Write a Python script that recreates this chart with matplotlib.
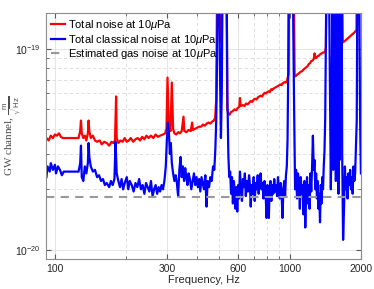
import matplotlib
matplotlib.use("Agg")
import numpy as np
from matplotlib import pyplot as plt
from matplotlib.ticker import FixedLocator, NullFormatter, FixedFormatter

plt.rcParams['font.family'] = ['Liberation Sans', 'DejaVu Sans']
plt.rcParams['mathtext.fontset'] = 'custom'
plt.rcParams['mathtext.rm'] = 'Liberation Sans'
plt.rcParams['mathtext.it'] = 'Liberation Sans:italic'

scale = 1e-20  # values below are in units of 1e-20 m/sqrt(Hz)

# total noise (red)
red_f = [92, 94, 96, 98, 100, 102, 104, 106, 108, 126, 128, 129, 130, 132, 134, 136, 138, 139, 140,
         142, 145, 148, 151, 155, 158, 162, 166, 170, 174, 177, 180, 182, 183, 186, 190, 194, 198,
         202, 206, 210, 215, 220, 225, 230, 235, 240, 245, 250, 256, 262, 268, 274, 280, 288, 294,
         298, 301, 305, 310, 314, 318, 322, 328, 334, 340, 346, 352, 355, 362, 370, 378, 383, 386,
         394, 402, 410, 418, 426, 434, 442, 450, 458, 466, 474, 480, 485, 489, 495, 500, 505, 511,
         516, 525, 533, 538, 540, 545, 552, 560, 570, 580, 590, 600, 608, 612, 616, 630, 640, 650,
         660, 670, 680, 690, 700, 710, 720, 730, 740, 750, 760, 770, 780, 790, 800, 810, 820, 830,
         840, 850, 860, 870, 880, 890, 900, 910, 920, 930, 940, 950, 960, 970, 985, 992, 1000, 1010,
         1020, 1035, 1045, 1055, 1070, 1080, 1095, 1110, 1125, 1140, 1155, 1170, 1185, 1200, 1215,
         1230, 1245, 1260, 1270, 1280, 1295, 1310, 1325, 1340, 1360, 1380, 1395, 1410, 1420, 1430,
         1480, 1520, 1560, 1620, 1660, 1675, 1690, 1700, 1715, 1730, 1745, 1760, 1775, 1790, 1805,
         1820, 1835, 1850, 1865, 1880, 1900, 1915, 1925, 1960, 2000]
red_v = [3.6, 3.5, 3.7, 3.6, 3.75, 3.7, 3.8, 3.65, 3.6, 3.6, 3.9, 4.4, 3.8, 3.6, 3.7, 3.5, 3.8, 4.4, 3.9,
         3.6, 3.7, 3.5, 3.45, 3.5, 3.35, 3.45, 3.4, 3.3, 3.45, 3.4, 3.5, 5.8, 3.6, 3.4, 3.5, 3.45, 3.6,
         3.45, 3.5, 3.6, 3.45, 3.55, 3.6, 3.5, 3.65, 3.55, 3.7, 3.6, 3.7, 3.6, 3.75, 3.65, 3.7, 3.75, 3.8,
         4.0, 7.2, 4.2, 3.9, 6.8, 4.0, 3.8, 3.75, 3.85, 3.8, 3.9, 4.6, 3.9, 3.85, 3.95, 3.9, 4.3, 3.95,
         4.0, 4.05, 4.1, 4.1, 4.2, 4.15, 4.25, 4.3, 4.25, 4.35, 4.4, 4.55, 5.6, 20, 30, 30, 11, 10.7,
         30, 30, 30, 12.4, 5.0, 4.8, 4.7, 4.85, 4.9, 5.0, 4.95, 5.1, 5.15, 5.7, 5.2, 5.25, 5.2, 5.35,
         5.3, 5.4, 5.5, 5.45, 5.6, 5.65, 5.6, 5.75, 5.8, 5.85, 5.8, 5.95, 6.05, 6.0, 6.1, 6.15, 6.1, 6.3,
         6.25, 6.35, 6.4, 6.45, 6.5, 6.55, 6.6, 6.65, 6.6, 6.75, 6.8, 6.85, 6.8, 6.95, 7.5, 30, 30, 30,
         30, 30, 7.4, 7.3, 7.45, 7.5, 7.6, 7.7, 7.75, 7.9, 8.0, 8.1, 8.2, 8.4, 8.5,
         8.7, 8.75, 8.9, 9.5, 9.0, 9.05, 9.2, 9.25, 9.4, 9.5, 9.6, 9.6, 9.7, 10.2, 30,
         30, 30, 30, 30, 30, 10.8, 10.85, 10.9, 11.0, 11.1, 11.2, 11.3, 11.4, 11.5, 11.6,
         11.7, 11.8, 11.9, 12.0, 12.1, 12.3, 12.4, 30, 30, 30]

# total classical noise (blue)
blue_f = [92, 93, 95, 96, 98, 100, 101, 103, 105, 107, 109, 126, 128, 129, 130, 132, 134, 136, 138, 139,
          140, 142, 145, 148, 151, 154, 157, 160, 163, 166, 170, 173, 176, 179, 181, 183, 186, 189, 192,
          195, 198, 202, 205, 208, 212, 216, 220, 224, 228, 232, 236, 240, 244, 248, 252, 256, 260, 264,
          268, 272, 276, 280, 284, 288, 292, 296, 299, 302, 305, 308, 311, 314, 318, 322, 326, 330, 334,
          338, 342, 346, 350, 354, 358, 362, 366, 370, 375, 380, 385, 390, 395, 400, 405, 410, 415, 420,
          425, 430, 436, 441, 446, 452, 458, 464, 470, 476, 481, 485, 489, 493, 498, 503, 508, 512, 517,
          523, 530, 536, 541, 546, 551, 556, 561, 566, 571, 576, 581, 586, 591, 596, 601, 606, 612, 618,
          624, 630, 636, 642, 648, 655, 662, 669, 675, 680, 686, 693, 700, 707, 714, 721, 728, 735, 742,
          749, 756, 763, 770, 778, 786, 794, 800, 806, 812, 818, 825, 832, 840, 848, 856, 864, 872, 880,
          888, 896, 904, 912, 920, 928, 936, 944, 952, 960, 968, 975, 982, 988, 995, 1002, 1010, 1020,
          1030, 1040, 1050, 1060, 1070, 1080, 1090, 1100, 1110, 1120, 1130, 1140, 1150, 1160, 1170, 1180,
          1190, 1200, 1210, 1220, 1230, 1240, 1250, 1260, 1270, 1280, 1290, 1300, 1310, 1320, 1330, 1340,
          1350, 1360, 1370, 1380, 1390, 1400, 1410, 1420, 1430, 1445, 1460, 1475, 1490, 1505, 1515, 1525,
          1535, 1545, 1555, 1565, 1575, 1585, 1595, 1605, 1615, 1625, 1635, 1645, 1655, 1665, 1680, 1695,
          1710, 1725, 1740, 1755, 1770, 1785, 1800, 1815, 1830, 1845, 1860, 1875, 1890, 1905, 1920, 1935,
          1950, 1965, 1980, 1990, 2000]
blue_v = [2.3, 2.6, 2.45, 2.7, 2.5, 2.65, 2.4, 2.6, 2.5, 2.35, 2.45, 2.45, 2.7, 3.3, 2.3, 2.2, 2.6, 2.4, 2.7, 3.4,
          2.9, 2.6, 2.45, 2.5, 2.3, 2.35, 2.2, 2.25, 2.1, 2.15, 2.05, 2.2, 2.1, 2.25, 3.45, 2.4, 2.2, 2.05, 2.25,
          2.0, 2.15, 2.3, 2.0, 2.2, 2.1, 1.95, 2.15, 2.05, 2.25, 2.0, 2.1, 1.9, 2.15, 2.05, 1.95, 2.2, 1.85, 2.0,
          2.1, 1.9, 2.05, 1.95, 2.1, 2.0, 2.2, 2.6, 3.5, 4.3, 3.9, 3.0, 3.4, 2.7, 2.4, 2.2, 2.35, 2.15, 1.85,
          2.5, 2.9, 2.3, 2.6, 2.2, 2.55, 2.3, 2.1, 2.4, 2.25, 2.0, 2.2, 2.4, 2.1, 2.3, 2.05, 2.25, 1.95, 2.3,
          2.15, 2.0, 2.35, 1.64, 2.2, 2.05, 2.3, 2.2, 2.6, 2.5, 3.2, 4.4, 9, 30, 30, 8, 3.6, 6, 30,
          30, 30, 30, 6, 3.0, 2.3, 2.45, 1.9, 2.3, 1.7, 2.2, 2.0, 1.6, 2.05, 1.55, 2.1, 1.8, 2.45, 2.0,
          1.75, 2.25, 2.05, 2.4, 1.85, 2.2, 1.95, 2.35, 2.1, 1.64, 2.1, 1.9, 2.3, 1.75, 2.15, 2.0, 2.35, 1.9, 2.2,
          2.4, 2.0, 2.15, 1.8, 2.2, 1.95, 1.44, 2.1, 1.85, 1.44, 2.05, 2.2, 1.75, 2.1, 1.9, 2.25, 1.95, 2.1, 1.85,
          2.3, 2.0, 1.8, 2.15, 1.9, 1.44, 2.0, 2.2, 1.85, 2.35, 2.6, 3.5, 8, 30, 30, 30, 30, 30,
          15, 5.0, 2.0, 2.5, 1.8, 2.4, 2.2, 1.6, 2.3, 1.9, 2.1, 1.5, 2.2, 1.29, 1.9, 2.3,
          1.7, 2.1, 1.6, 2.4, 1.95, 2.6, 3.7, 2.5, 2.8, 2.0, 2.4, 1.8, 2.2, 1.6, 1.9, 1.37,
          2.1, 1.7, 2.3, 2.0, 2.6, 3.1, 4.5, 12, 30, 30, 30, 8, 2.0, 6, 30, 2.5,
          30, 3.0, 30, 2.2, 30, 4, 30, 1.9, 30, 2.8, 30, 5, 30, 3.0, 1.12, 1.6,
          2.6, 2.0, 2.3, 1.8, 2.4, 2.1, 2.5, 2.0, 2.3, 1.9, 2.6, 2.2, 2.4, 3.2, 4.4, 30,
          30, 30, 6, 3.5, 2.4]

gas_f = [92, 2000]
gas_v = [1.84, 1.84]

fig = plt.figure(figsize=(3.74, 2.89), dpi=100)
ax = fig.add_axes([0.123, 0.104, 0.842, 0.851])

ax.plot(red_f, np.array(red_v) * scale, color='red', lw=1.6, label=r'Total noise at 10$\mu$Pa')
ax.plot(blue_f, np.array(blue_v) * scale, color='blue', lw=1.6, label=r'Total classical noise at 10$\mu$Pa')
ax.plot(gas_f, np.array(gas_v) * scale, color='0.6', lw=1.5, ls=(0, (4, 3)),
        label=r'Estimated gas noise at 10$\mu$Pa')

ax.set_xscale('log')
ax.set_yscale('log')
ax.set_xlim(91.6, 2000)
ax.set_ylim(9.0e-21, 1.51e-19)

ax.xaxis.set_major_locator(FixedLocator([100, 300, 600, 1000, 2000]))
ax.xaxis.set_major_formatter(FixedFormatter(['100', '300', '600', '1000', '2000']))
ax.xaxis.set_minor_locator(FixedLocator([200, 400, 500, 700, 800, 900]))
ax.xaxis.set_minor_formatter(NullFormatter())
ax.yaxis.set_major_locator(FixedLocator([1e-20, 1e-19]))
ax.yaxis.set_major_formatter(FixedFormatter([r'$10^{-20}$', r'$10^{-19}$']))
ax.yaxis.set_minor_locator(FixedLocator([k * 1e-20 for k in range(2, 10)]))
ax.yaxis.set_minor_formatter(NullFormatter())

ax.grid(True, which='major', color='0.88', lw=0.6, ls='-')
ax.grid(True, which='minor', color='0.85', lw=0.6, ls=(0, (4, 3)))
ax.set_axisbelow(True)
ax.tick_params(which='both', direction='in', top=True, right=True, colors='0.35',
               labelcolor='0.15', labelsize=7.5)
ax.tick_params(which='major', length=3.5)
ax.tick_params(which='minor', length=2)
for s in ax.spines.values():
    s.set_color('0.55')
    s.set_linewidth(0.8)

ax.set_xlabel('Frequency, Hz', fontsize=8, color='0.15', labelpad=1)
ax.set_ylabel(r'GW channel, $\frac{\mathrm{m}}{\sqrt{\mathrm{Hz}}}$', fontsize=8, color='0.3',
              family='Liberation Serif')
ax.yaxis.set_label_coords(-0.07, 0.5)

ax.legend(loc='upper left', fontsize=8, frameon=False, handlelength=1.3, handletextpad=0.2,
          labelspacing=0.05, borderaxespad=0.25, borderpad=0.2)

fig.savefig('out.png', dpi=100)
